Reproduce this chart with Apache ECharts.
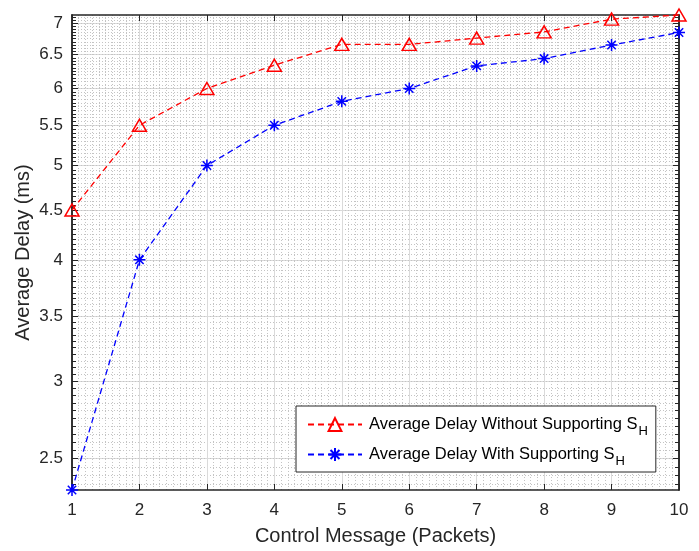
<!DOCTYPE html>
<html>
<head>
<meta charset="utf-8">
<script src="https://cdn.jsdelivr.net/npm/echarts@6/dist/echarts.min.js"></script>
<style>
  html, body { margin: 0; padding: 0; background: #fff; }
  #chart { width: 699px; height: 551px; }
</style>
</head>
<body>
<div id="chart"></div>
<script>
// Control message sizes (packets)
const packets = [1, 2, 3, 4, 5, 6, 7, 8, 9, 10];
// Average delay (ms) without S_H support
const delayWithout = [4.5, 5.5, 6.0, 6.34, 6.66, 6.66, 6.76, 6.86, 7.07, 7.14];
// Average delay (ms) with S_H support
const delayWith = [2.32, 4.0, 5.0, 5.5, 5.82, 6.0, 6.33, 6.44, 6.65, 6.85];
// Labelled ticks on the delay axis
const yMajorTicks = [2.5, 3, 3.5, 4, 4.5, 5, 5.5, 6, 6.5, 7];
const xTicks = [1, 2, 3, 4, 5, 6, 7, 8, 9, 10];

const nameWithout = 'Average Delay Without Supporting S_H';
const nameWith = 'Average Delay With Supporting S_H';

// axis limits hug the data
const yMin = Math.min(...delayWith, ...delayWithout);
const yMax = Math.max(...delayWith, ...delayWithout);

// minor ticks every 0.05 ms on the delay axis
const yMinorTicks = [];
for (let k = Math.ceil(yMin * 20); k <= Math.floor(yMax * 20); k++) {
  yMinorTicks.push(+(k / 20).toFixed(2));
}

const FONT = '"Liberation Sans", Arial, Helvetica, sans-serif';
const FRAME = '#262626';
const MAJOR_GRID = '#dadada';
const MINOR_GRID = '#c4c4c4';

const pairs = (ys) => packets.map((x, i) => [x, ys[i]]);

const baseX = {
  type: 'value', min: 1, max: 10, interval: 1,
  axisLine: { show: true, onZero: false, lineStyle: { color: FRAME, width: 1.5 } },
  axisTick: { show: true, inside: true, length: 6, lineStyle: { color: FRAME, width: 1 } },
  axisLabel: { show: false },
  splitLine: { show: false }
};
const baseY = {
  type: 'log', logBase: 10, min: yMin, max: yMax,
  axisLine: { show: true, onZero: false, lineStyle: { color: FRAME, width: 1.5 } },
  axisLabel: { show: false },
  splitLine: { show: false }
};

const chart = echarts.init(document.getElementById('chart'), null, { renderer: 'canvas' });
chart.setOption({
  animation: false,
  backgroundColor: '#ffffff',
  textStyle: { fontFamily: FONT },
  grid: { left: 72, right: 20, top: 15, bottom: 61, containLabel: false, outerBoundsMode: 'none' },
  xAxis: [
    Object.assign({}, baseX, {
      position: 'bottom',
      name: 'Control Message (Packets)',
      nameLocation: 'middle', nameGap: 36, nameMoveOverlap: false,
      nameTextStyle: { fontFamily: FONT, fontSize: 20, color: '#262626' },
      axisLabel: {
        show: true, margin: 12, fontFamily: FONT, fontSize: 17, color: '#262626',
        customValues: xTicks
      },
      splitLine: { show: true, lineStyle: { color: MAJOR_GRID, width: 1 } },
      minorTick: { show: false, splitNumber: 10 },
      minorSplitLine: { show: true, lineStyle: { color: MINOR_GRID, width: 1, type: [1, 2] } }
    }),
    Object.assign({}, baseX, { position: 'top' })
  ],
  yAxis: [
    Object.assign({}, baseY, {
      position: 'left',
      name: 'Average Delay (ms)',
      nameLocation: 'middle', nameGap: 39, nameRotate: 90, nameMoveOverlap: false,
      nameTextStyle: { fontFamily: FONT, fontSize: 20, color: '#262626' },
      axisTick: { show: true, inside: true, length: 6, customValues: yMajorTicks,
                  lineStyle: { color: FRAME, width: 1 } },
      axisLabel: { show: true, margin: 9, fontFamily: FONT, fontSize: 17, color: '#262626',
                   customValues: yMajorTicks, formatter: (v) => String(v) },
      splitLine: { show: true, lineStyle: { color: MAJOR_GRID, width: 1 } }
    }),
    Object.assign({}, baseY, {
      position: 'left',
      axisTick: { show: true, inside: true, length: 4, customValues: yMinorTicks,
                  lineStyle: { color: FRAME, width: 1 } },
      splitLine: { show: true, lineStyle: { color: MINOR_GRID, width: 1, type: [1, 2] } }
    }),
    Object.assign({}, baseY, {
      position: 'right',
      axisTick: { show: true, inside: true, length: 6, customValues: yMajorTicks,
                  lineStyle: { color: FRAME, width: 1 } }
    }),
    Object.assign({}, baseY, {
      position: 'right',
      axisTick: { show: true, inside: true, length: 4, customValues: yMinorTicks,
                  lineStyle: { color: FRAME, width: 1 } }
    })
  ],
  legend: {
    orient: 'vertical',
    left: 296, top: 406,
    padding: [10, 8, 4, 11],
    itemGap: 8,
    itemWidth: 54, itemHeight: 16,
    backgroundColor: '#ffffff',
    borderColor: FRAME, borderWidth: 1, borderRadius: 0,
    data: [nameWithout, nameWith],
    formatter: (name) => name.replace('S_H', 'S{sub|H}'),
    textStyle: {
      fontFamily: FONT, fontSize: 16.5, color: '#000000', padding: [0, 0, 0, 2],
      rich: { sub: { fontFamily: FONT, fontSize: 13, color: '#000000', padding: [14, 0, 0, 1] } }
    }
  },
  series: [
    {
      name: nameWithout, type: 'line', xAxisIndex: 0, yAxisIndex: 0,
      data: pairs(delayWithout),
      clip: false, z: 5,
      symbol: 'triangle', symbolSize: [14, 12],
      lineStyle: { color: '#ff0000', width: 1.3, type: [6, 4] },
      itemStyle: { color: 'rgba(255,255,255,0)', borderColor: '#ff0000', borderWidth: 1.5 }
    },
    {
      name: nameWith, type: 'line', xAxisIndex: 0, yAxisIndex: 0,
      data: pairs(delayWith),
      clip: false, z: 5,
      symbol: 'path://M0,-10L0,10M-10,0L10,0M-7,-7L7,7M-7,7L7,-7',
      symbolSize: 12,
      lineStyle: { color: '#0000ff', width: 1.3, type: [6, 4] },
      itemStyle: { color: 'rgba(0,0,255,0)', borderColor: '#0000ff', borderWidth: 1.5 }
    }
  ]
});
</script>
</body>
</html>
